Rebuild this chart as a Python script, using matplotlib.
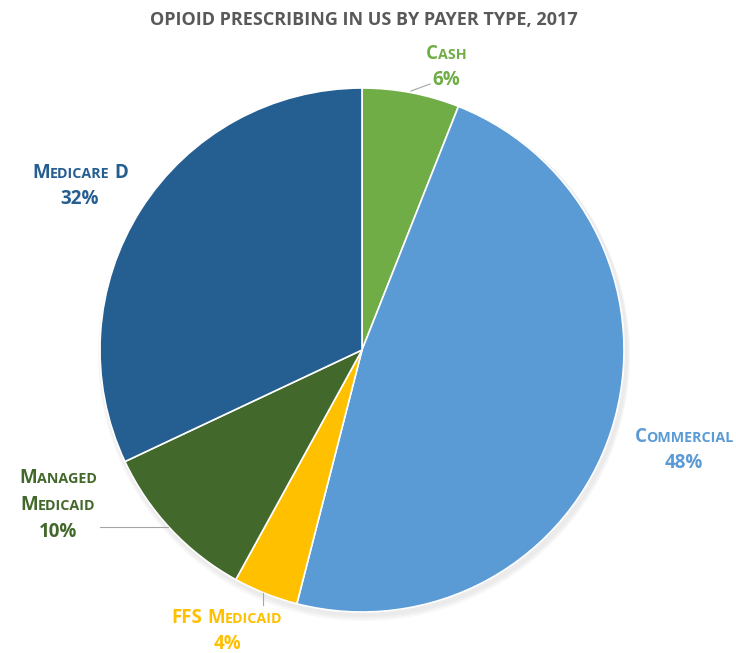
import matplotlib
matplotlib.use("Agg")
import matplotlib.pyplot as plt
from matplotlib.offsetbox import TextArea, HPacker, VPacker, AnnotationBbox

categories = ["Cash", "Commercial", "FFS Medicaid", "Managed Medicaid", "Medicare D"]
values = [6, 48, 4, 10, 32]
colors = ["#70AD47", "#5B9BD5", "#FFC000", "#43682B", "#255E91"]
label_lines = [["Cash"], ["Commercial"], ["FFS Medicaid"], ["Managed", "Medicaid"], ["Medicare D"]]
title = "OPIOID PRESCRIBING IN US BY PAYER TYPE, 2017"

W, H = 736, 653
fig = plt.figure(figsize=(W / 100, H / 100), dpi=100)
ax = fig.add_axes([0, 0, 1, 1])
ax.set_xlim(0, W)
ax.set_ylim(0, H)
ax.set_aspect("equal")
ax.axis("off")

cx, cy, r = 362, H - 350, 262

# faint shadow
for i, a in enumerate([0.05, 0.05, 0.05]):
    ax.add_patch(plt.Circle((cx + 2, cy - 3 - i), r + 2 + i, color="#7f7f7f", alpha=a, lw=0, zorder=0))

ax.pie(values, colors=colors, startangle=90, counterclock=False, center=(cx, cy), radius=r,
       wedgeprops=dict(edgecolor="white", linewidth=1.2), frame=True)
ax.set_xlim(0, W)
ax.set_ylim(0, H)
ax.axis("off")

FONT = "Open Sans"
BIG, SMALL = 13.5, 10.3


def small_caps_line(text, color):
    parts = []
    props_big = dict(fontsize=BIG, family=FONT, weight="bold", color=color)
    props_small = dict(fontsize=SMALL, family=FONT, weight="bold", color=color)
    for wi, word in enumerate(text.split(" ")):
        if wi > 0:
            parts.append(TextArea(" ", textprops=props_big))
        if word.isupper():
            parts.append(TextArea(word, textprops=props_big))
            continue
        parts.append(TextArea(word[0].upper(), textprops=props_big))
        if len(word) > 1:
            parts.append(TextArea(word[1:].upper(), textprops=props_small))
    return HPacker(children=parts, align="baseline", pad=0, sep=0)


# label centres (pixel coords, y from top)
label_pos = [(446, 67), (684, 450), (227, 631), (58, 505), (80, 186)]

for lines, val, col, (lx, ly) in zip(label_lines, values, colors, label_pos):
    rows = [small_caps_line(t, col) for t in lines]
    rows.append(TextArea(f"{val}%", textprops=dict(fontsize=BIG, family=FONT, weight="bold", color=col)))
    box = VPacker(children=rows, align="center", pad=0, sep=5)
    ab = AnnotationBbox(box, (lx, H - ly), frameon=False, box_alignment=(0.5, 0.5), zorder=5)
    ax.add_artist(ab)

# leader lines
lc = "#A6A6A6"
ax.plot([411, 430], [H - 91, H - 84], color=lc, lw=0.8)
ax.plot([100, 168], [H - 527, H - 527], color=lc, lw=0.8)
ax.plot([263, 263], [H - 593, H - 605], color=lc, lw=0.8)

ax.text(W / 2 - 4, H - 20, title, ha="center", va="center", fontsize=13, family=FONT,
        weight="bold", color="#595959")

fig.savefig("out.png", dpi=100)
